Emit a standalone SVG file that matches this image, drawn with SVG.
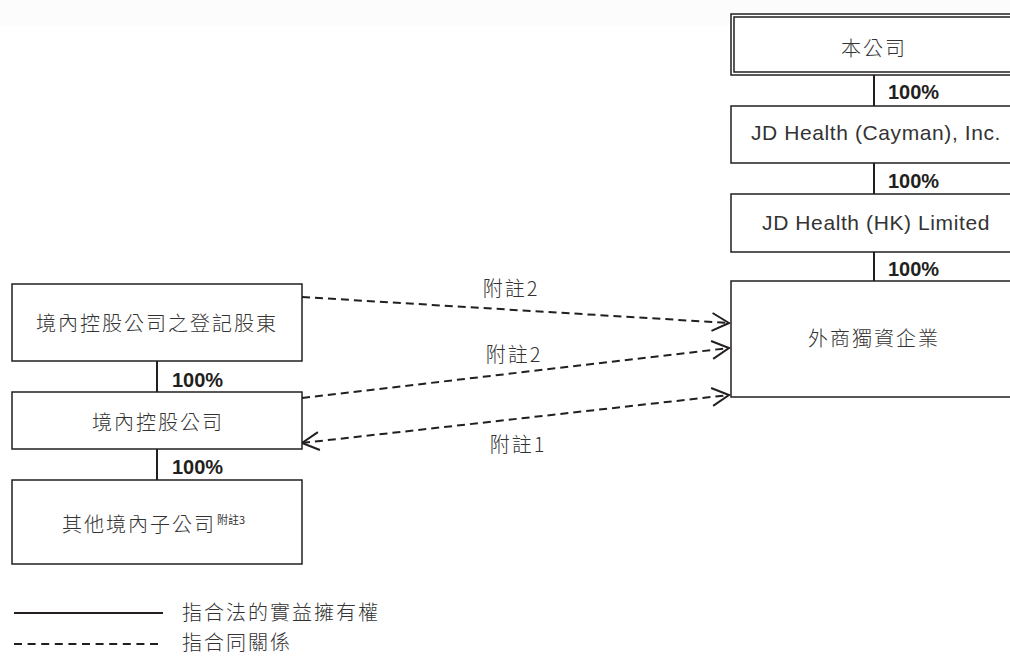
<svg xmlns="http://www.w3.org/2000/svg" width="1010" height="656" viewBox="0 0 1010 656">
<defs>
<style>
.box{fill:#fff;stroke:#231f20;stroke-width:1.5}
.cjk{font-family:"Noto Sans CJK TC","Noto Sans CJK SC",sans-serif;font-size:20px;font-weight:300;letter-spacing:2px;fill:#333;text-anchor:middle}
.lat{font-family:"Liberation Sans",Arial,sans-serif;font-size:21px;letter-spacing:0.6px;fill:#333;text-anchor:middle}
.pct{font-family:"Liberation Sans",Arial,sans-serif;font-size:20px;font-weight:bold;fill:#231f20}
.own{stroke:#231f20;stroke-width:2;fill:none}
.rel{stroke:#231f20;stroke-width:2;fill:none;stroke-dasharray:8 5}
</style>
<marker id="arr" markerUnits="userSpaceOnUse" markerWidth="24" markerHeight="24" viewBox="-20 -12 24 24" refX="0" refY="0" orient="auto-start-reverse">
<path d="M-17,-9 L0,0 L-17,9" fill="none" stroke="#231f20" stroke-width="2"/>
</marker>
</defs>
<rect x="0" y="0" width="1010" height="26" fill="#fcfcfc"/>
<g id="connectors">
<line class="own" x1="874" y1="75" x2="874" y2="106"/>
<line class="own" x1="874" y1="163" x2="874" y2="194"/>
<line class="own" x1="874" y1="252" x2="874" y2="281"/>
<line class="own" x1="157" y1="361" x2="157" y2="392"/>
<line class="own" x1="157" y1="449" x2="157" y2="480"/>
<text class="pct" x="888" y="99">100%</text>
<text class="pct" x="888" y="188">100%</text>
<text class="pct" x="888" y="276">100%</text>
<text class="pct" x="172" y="387">100%</text>
<text class="pct" x="172" y="474">100%</text>
<line class="rel" x1="302" y1="297" x2="729" y2="323" marker-end="url(#arr)"/>
<line class="rel" x1="302" y1="398" x2="729" y2="348" marker-end="url(#arr)"/>
<line class="rel" x1="302" y1="443" x2="729" y2="395" marker-start="url(#arr)" marker-end="url(#arr)"/>
<text class="cjk" x="511" y="296">附註2</text>
<text class="cjk" x="514" y="362">附註2</text>
<text class="cjk" x="518" y="452">附註1</text>
</g>
<g id="n-company">
<rect class="box" x="731" y="14" width="300" height="61"/>
<rect class="box" x="734" y="17" width="300" height="55"/>
<text class="cjk" x="874" y="56">本公司</text>
</g>
<g id="n-cayman">
<rect class="box" x="731" y="106" width="300" height="57"/>
<text class="lat" x="876" y="140">JD Health (Cayman), Inc.</text>
</g>
<g id="n-hk">
<rect class="box" x="731" y="194" width="300" height="58"/>
<text class="lat" x="876" y="230">JD Health (HK) Limited</text>
</g>
<g id="n-wfoe">
<rect class="box" x="731" y="281" width="300" height="116"/>
<text class="cjk" x="874" y="346">外商獨資企業</text>
</g>
<g id="n-shareholder">
<rect class="box" x="12" y="284" width="290" height="77"/>
<text class="cjk" x="157" y="331">境內控股公司之登記股東</text>
</g>
<g id="n-holding">
<rect class="box" x="12" y="392" width="290" height="57"/>
<text class="cjk" x="158" y="430">境內控股公司</text>
</g>
<g id="n-other">
<rect class="box" x="12" y="480" width="290" height="84"/>
<text class="cjk" x="139" y="532">其他境內子公司</text>
<text x="217" y="524" style="font-family:'Noto Sans CJK TC',sans-serif;font-size:11px;fill:#333">附註3</text>
</g>
<g id="legend">
<line class="own" x1="14" y1="613" x2="163" y2="613"/>
<text class="cjk" x="182" y="620" style="text-anchor:start">指合法的實益擁有權</text>
<line class="own" x1="14" y1="644" x2="163" y2="644" style="stroke-dasharray:8 5.6"/>
<text class="cjk" x="182" y="650" style="text-anchor:start">指合同關係</text>
</g>
</svg>
